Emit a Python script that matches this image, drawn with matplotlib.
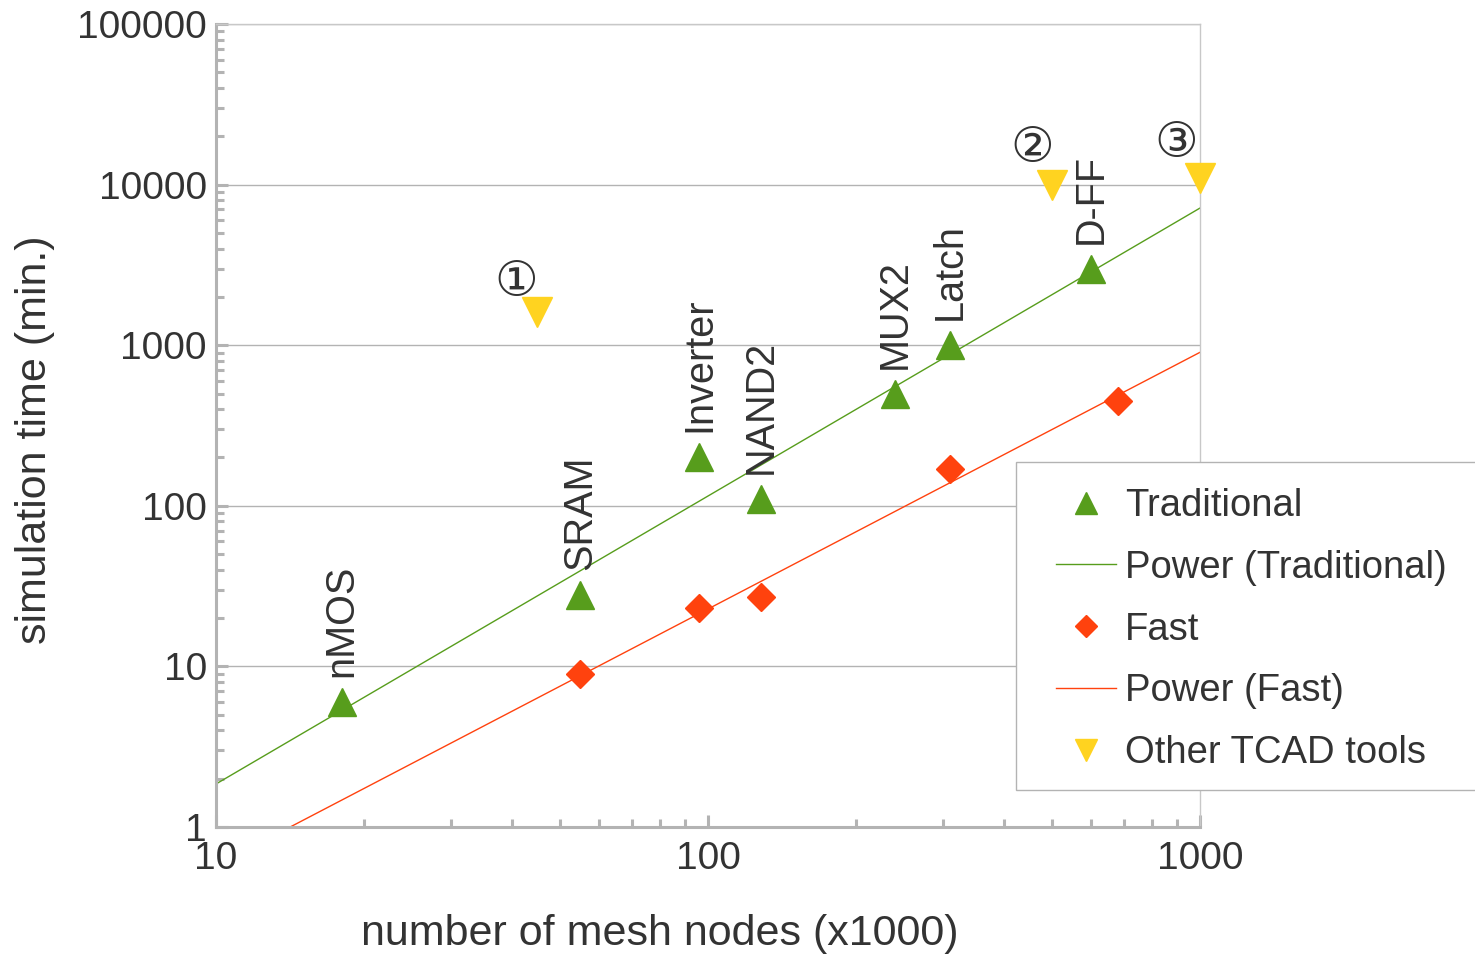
import numpy as np
import matplotlib
matplotlib.use("Agg")
import matplotlib.pyplot as plt
from matplotlib.patches import Rectangle
from matplotlib.lines import Line2D

plt.rcParams["font.family"] = ["Liberation Sans", "DejaVu Sans"]

# circuits simulated with the traditional solver
trad_names = ["nMOS", "SRAM", "Inverter", "NAND2", "MUX2", "Latch", "D-FF"]
trad_nodes = [18, 55, 96, 128, 240, 310, 600]
trad_time = [6, 28, 200, 110, 500, 1000, 3000]

# same circuits with the fast solver
fast_nodes = [55, 96, 128, 310, 680]
fast_time = [9, 23, 27, 170, 450]

# reference runs from other TCAD tools
other_marks = ["\u2460", "\u2461", "\u2462"]
other_nodes = [45, 500, 1000]
other_time = [1600, 10000, 11000]

x_ticks = [10, 100, 1000]
y_ticks = [1, 10, 100, 1000, 10000, 100000]

GREEN = "#579d1c"
RED = "#ff420e"
YELLOW = "#ffd320"
TXT = "#333333"
GRAY = "#b3b3b3"

W, H = 1475, 957
fig = plt.figure(figsize=(W / 100, H / 100), dpi=100)
ax = fig.add_axes([216 / W, 1 - 827 / H, (1200 - 216) / W, (827 - 24) / H])
ax.set_xscale("log")
ax.set_yscale("log")
ax.set_xlim(10, 1000)
ax.set_ylim(1, 100000)

# power-law fits y = a * x^b done in log space
def power_fit(x, y):
    b, loga = np.polyfit(np.log10(x), np.log10(y), 1)
    xs = np.logspace(1, 3, 200)
    return xs, 10 ** loga * xs ** b

xs, ys = power_fit(trad_nodes, trad_time)
ax.plot(xs, ys, color=GREEN, lw=1, zorder=2)
xs, ys = power_fit(fast_nodes, fast_time)
ax.plot(xs, ys, color=RED, lw=1, zorder=2)

ax.plot(trad_nodes, trad_time, ls="none", marker="^", ms=20, color=GREEN,
        mec=GREEN, zorder=3, clip_on=False)
ax.plot(fast_nodes, fast_time, ls="none", marker="D", ms=14, color=RED,
        mec=RED, zorder=3, clip_on=False)
ax.plot(other_nodes, other_time, ls="none", marker="v", ms=21, color=YELLOW,
        mec=YELLOW, zorder=3, clip_on=False)

for name, x, y in zip(trad_names, trad_nodes, trad_time):
    ax.annotate(name, (x, y), xytext=(0, 18), textcoords="offset points",
                rotation=90, ha="center", va="bottom", fontsize=28.5, color=TXT)

mark_offsets = [(-15, 22), (-14, 26), (-17, 25)]
for m, x, y, off in zip(other_marks, other_nodes, other_time, mark_offsets):
    ax.annotate(m, (x, y), xytext=off, textcoords="offset points",
                ha="center", va="center", fontsize=35, color=TXT,
                family=["DejaVu Sans"], annotation_clip=False)

# axes styling
ax.grid(axis="y", which="major", color=GRAY, lw=1, zorder=0)
for s in ("left", "bottom"):
    ax.spines[s].set_color(GRAY)
    ax.spines[s].set_linewidth(2.2)
for s in ("top", "right"):
    ax.spines[s].set_color("#c8c8c8")
    ax.spines[s].set_linewidth(1)

ax.set_xticks(x_ticks)
ax.set_xticklabels([str(v) for v in x_ticks])
ax.set_yticks(y_ticks)
ax.set_yticklabels([str(v) for v in y_ticks])
ax.tick_params(which="both", direction="in", color=GRAY, width=2.2,
               top=False, right=False, labelcolor=TXT, labelsize=28)
ax.tick_params(which="major", length=8.5)
ax.tick_params(which="minor", length=5.5)
ax.tick_params(axis="y", pad=6.5)
ax.tick_params(axis="x", pad=10)
ax.xaxis.set_minor_formatter(matplotlib.ticker.NullFormatter())
ax.yaxis.set_minor_formatter(matplotlib.ticker.NullFormatter())

fig.text(660 / W, 1 - 934 / H, "number of mesh nodes (x1000)", fontsize=31,
         color=TXT, ha="center", va="center")
fig.text(35 / W, 1 - 440 / H, "simulation time (min.)", fontsize=31,
         color=TXT, ha="center", va="center", rotation=90)

# legend box drawn by hand, entries placed inside it
fig.patches.append(Rectangle((1016 / W, 1 - 790 / H), (W - 1016 + 10) / W,
                             (790 - 462) / H, transform=fig.transFigure,
                             facecolor="white", edgecolor=GRAY, lw=1, zorder=5))
handles = [
    Line2D([], [], ls="none", marker="^", ms=16, color=GREEN),
    Line2D([], [], color=GREEN, lw=1),
    Line2D([], [], ls="none", marker="D", ms=11.5, color=RED),
    Line2D([], [], color=RED, lw=1),
    Line2D([], [], ls="none", marker="v", ms=16, color=YELLOW),
]
labels = ["Traditional", "Power (Traditional)", "Fast", "Power (Fast)",
          "Other TCAD tools"]
leg = fig.legend(handles, labels, loc="upper left",
                 bbox_to_anchor=(1056 / W, 1 - 488 / H), frameon=False,
                 borderpad=0, borderaxespad=0, fontsize=27.5,
                 handlelength=1.57, handletextpad=0.24, labelspacing=0.675,
                 labelcolor=TXT)
leg.set_zorder(6)

fig.savefig("out.png", dpi=100)
